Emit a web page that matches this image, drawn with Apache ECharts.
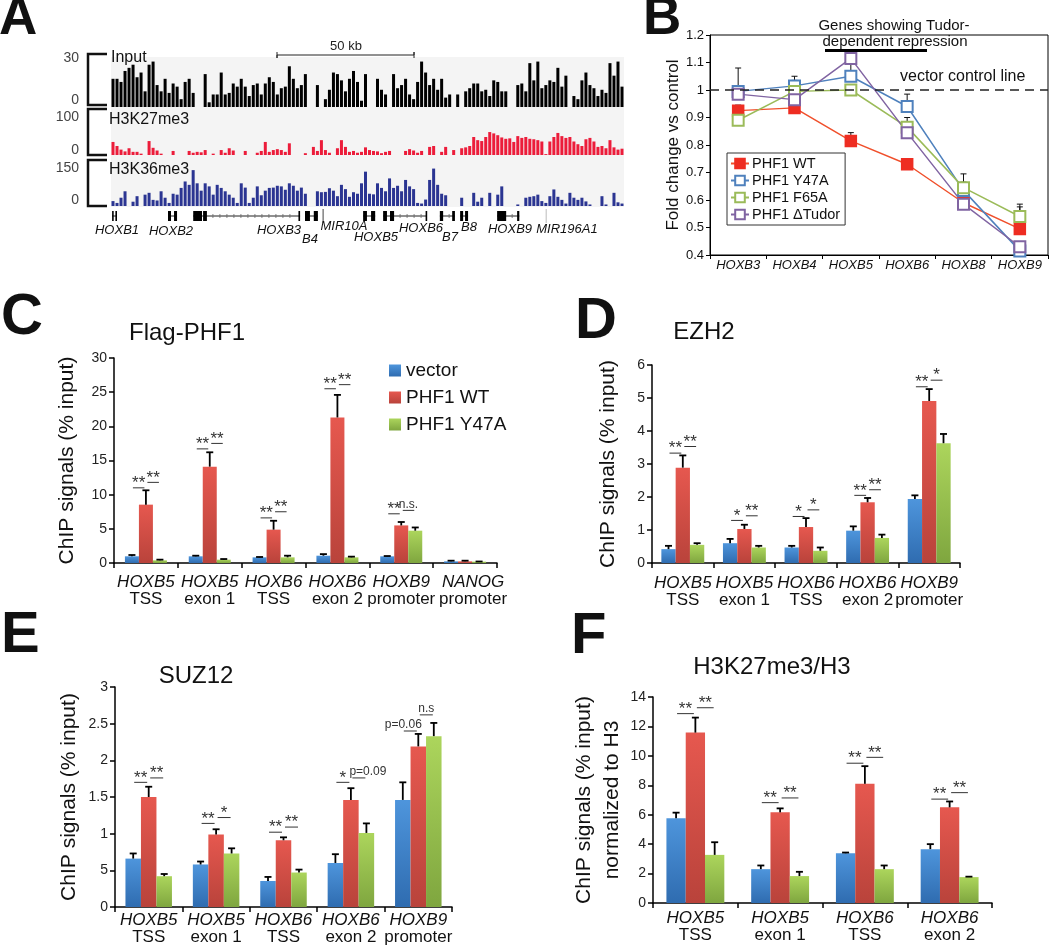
<!DOCTYPE html>
<html>
<head>
<meta charset="utf-8">
<script src="https://cdn.jsdelivr.net/npm/echarts@6.0.0/dist/echarts.min.js"></script>
<style>
  html, body { margin: 0; padding: 0; background: #fff; width: 1050px; height: 946px; overflow: hidden; }
  .layer { position: absolute; left: 0; top: 0; width: 1050px; height: 946px; }
</style>
</head>
<body>
<div id="chartAB" class="layer"></div>
<div id="chartCF" class="layer"></div>
<script>
var FONT = '"Liberation Sans", Arial, Helvetica, sans-serif';

// ---------- A: genome browser tracks (binned signal, 128 bins) ----------
var inputTrack = [18,18,16,23,25,27,19,22,10,27,29,14,10,18,9,15,13,5,16,18,9,0,0,21,3,8,8,22,8,9,
  15,13,18,13,7,14,15,8,15,19,16,8,12,13,26,18,12,14,21,0,0,14,0,5,11,22,21,17,10,18,23,16,4,21,0,
  0,18,11,8,0,21,12,14,18,8,5,16,29,22,14,18,11,18,6,8,0,8,0,10,12,15,15,10,11,7,17,16,10,10,0,0,
  14,15,10,28,17,29,12,14,17,16,25,13,20,0,7,5,17,22,14,12,7,11,9,28,20,29,13];
var k27Track = [29,20,12,8,15,7,7,3,0,31,16,10,3,0,0,9,0,0,0,9,5,7,6,11,0,3,0,11,5,15,
  10,0,0,9,0,0,5,9,29,7,11,13,11,7,26,0,0,0,4,0,18,9,33,11,5,0,15,33,18,7,9,5,7,17,11,
  9,8,4,7,9,0,0,0,9,13,10,5,9,0,18,20,0,7,18,0,11,0,15,17,20,40,33,31,40,51,48,44,39,36,37,29,
  42,38,40,36,35,33,30,2,30,40,49,42,38,40,30,24,20,35,38,30,18,20,15,33,17,12,14];
var k36Track = [16,10,27,48,0,14,32,0,37,43,20,18,48,27,10,40,37,59,80,69,117,74,50,74,64,37,69,59,48,37,
  27,10,74,60,10,27,64,35,50,59,60,66,64,53,74,66,50,60,40,0,0,48,45,46,58,50,32,69,55,30,45,40,74,112,40,
  38,74,59,48,90,59,66,48,85,64,55,10,8,21,85,122,69,40,35,0,0,0,27,0,0,43,14,27,0,43,0,37,64,0,0,0,
  5,0,27,30,32,37,16,10,32,54,30,20,8,43,27,20,27,15,5,0,0,32,5,0,43,12,8];
var trackMax = [30, 100, 150];
var binIdx = inputTrack.map(function (v, i) { return i; });

// gene models (kb from left edge of the window)
var geneNames = ['HOXB1','HOXB2','HOXB3','B4','MIR10A','HOXB5','HOXB6','B7','B8','HOXB9','MIR196A1'];
var geneStartKb = [0.4, 20.8, 30.0, 70.8, 77.4, 92.0, 99.3, 120.0, 127.4, 140.9, 158.8];
var geneEndKb   = [2.2, 24.1, 69.0, 75.5, 77.4, 96.4, 115.3, 125.5, 130.3, 149.0, 158.8];
var geneExonsKb = [
  [[0.4,0.9],[1.6,2.2]],
  [[20.8,21.9],[23.0,24.1]],
  [[30.0,33.2],[33.6,35.0],[68.4,69.0]],
  [[70.8,72.6],[74.0,75.5]],
  [],
  [[92.0,93.4],[94.9,96.4]],
  [[99.3,100.7],[101.8,103.3],[114.8,115.3]],
  [[120.0,121.2],[124.5,125.5]],
  [[127.4,128.5],[129.2,130.3]],
  [[140.9,144.2],[148.2,149.0]],
  []
];
var windowKb = 187.2;
var scaleBarKb = 50;

// ---------- B: fold change vs control ----------
var genesB = ['HOXB3','HOXB4','HOXB5','HOXB6','HOXB8','HOXB9'];
var wtB   = [0.925, 0.935, 0.815, 0.73, 0.59, 0.495];
var y47B  = [0.995, 1.015, 1.05, 0.94, 0.635, 0.415];
var f65B  = [0.89, 0.995, 1.0, 0.865, 0.645, 0.54];
var tudB  = [0.985, 0.965, 1.115, 0.845, 0.585, 0.43];
var wtErrB  = [0.02, 0.01, 0.03, 0, 0.02, 0.08];
var y47ErrB = [0.085, 0.035, 0.06, 0.045, 0.03, 0.02];
var f65ErrB = [0.025, 0.04, 0, 0.035, 0.05, 0.045];
var tudErrB = [0, 0.01, 0, 0, 0, 0.005];
var controlLevel = 1;

// ---------- C-F: ChIP qPCR ----------
var geneC = ['HOXB5','HOXB5','HOXB6','HOXB6','HOXB9','NANOG'];
var siteC = ['TSS','exon 1','TSS','exon 2','promoter','promoter'];
var vecC = [0.98, 0.98, 0.83, 1.07, 0.98, 0.24];
var wtC  = [8.54, 14.1, 4.88, 21.3, 5.5, 0.24];
var y47C = [0.39, 0.49, 0.83, 0.83, 4.73, 0.2];
var vecErrC = [0.19, 0.09, 0.05, 0.23, 0.04, 0.1];
var wtErrC  = [2.1, 2.1, 1.3, 3.3, 0.5, 0.1];
var y47ErrC = [0.1, 0.09, 0.24, 0.1, 0.47, 0.02];
var sigLeftC  = [11.0, 16.7, 6.6, 25.5, 7.2];
var sigRightC = [11.8, 17.5, 7.5, 26.1, 7.7];
var sigLeftTextC  = ['**','**','**','**','**'];
var sigRightTextC = ['**','**','**','**','n.s.'];

var geneD = ['HOXB5','HOXB5','HOXB6','HOXB6','HOXB9'];
var siteD = ['TSS','exon 1','TSS','exon 2','promoter'];
var vecD = [0.42, 0.6, 0.47, 0.98, 1.94];
var wtD  = [2.89, 1.03, 1.09, 1.84, 4.91];
var y47D = [0.55, 0.47, 0.37, 0.76, 3.63];
var vecErrD = [0.1, 0.13, 0.05, 0.13, 0.11];
var wtErrD  = [0.37, 0.13, 0.27, 0.13, 0.36];
var y47ErrD = [0.05, 0.05, 0.1, 0.1, 0.28];
var sigLeftD  = [3.33, 1.29, 1.41, 2.05, 5.34];
var sigRightD = [3.53, 1.43, 1.61, 2.22, 5.54];
var sigLeftTextD  = ['**','*','*','**','**'];
var sigRightTextD = ['**','**','*','**','*'];

var vecE = [0.66, 0.58, 0.355, 0.6, 1.46];
var wtE  = [1.5, 0.99, 0.91, 1.46, 2.19];
var y47E = [0.42, 0.73, 0.47, 1.01, 2.33];
var vecErrE = [0.07, 0.04, 0.055, 0.12, 0.24];
var wtErrE  = [0.14, 0.07, 0.04, 0.16, 0.17];
var y47ErrE = [0.03, 0.07, 0.04, 0.13, 0.18];
var sigLeftE  = [1.7, 1.14, 1.02, 1.7, 2.4];
var sigRightE = [1.76, 1.22, 1.09, 1.76, 2.62];
var sigLeftTextE  = ['**','**','**','*','p=0.06'];
var sigRightTextE = ['**','*','**','p=0.09','n.s'];

var geneF = ['HOXB5','HOXB5','HOXB6','HOXB6'];
var siteF = ['TSS','exon 1','TSS','exon 2'];
var vecF = [5.76, 2.3, 3.38, 3.66];
var wtF  = [11.58, 6.16, 8.1, 6.5];
var y47F = [3.27, 1.83, 2.3, 1.76];
var vecErrF = [0.38, 0.25, 0.05, 0.34];
var wtErrF  = [1.02, 0.27, 1.2, 0.4];
var y47ErrF = [0.86, 0.29, 0.25, 0.03];
var sigLeftF  = [12.87, 6.82, 9.5, 7.06];
var sigRightF = [13.27, 7.14, 9.9, 7.5];
var sigLeftTextF  = ['**','**','**','**'];
var sigRightTextF = ['**','**','**','**'];

// ---------- helpers ----------
function txt(text, x, y, size, o) {
  o = o || {};
  return {
    type: 'text', z: 20, x: x, y: y, rotation: o.rotation || 0,
    style: {
      text: text, fill: o.color || '#111',
      font: (o.italic ? 'italic ' : '') + (o.bold ? 'bold ' : '') + size + 'px ' + FONT,
      align: o.align || 'center', verticalAlign: o.va || 'middle'
    }
  };
}
function bracket(y1, y2) {
  return { type: 'polyline', z: 20, shape: { points: [[107, y1], [88, y1], [88, y2], [107, y2]] },
    style: { stroke: '#111', lineWidth: 2.5, fill: null } };
}
function catLabels(genes, sites) {
  return genes.map(function (g, i) { return g + '\n' + sites[i]; });
}

// ================= chart A + B =================
var chartAB = echarts.init(document.getElementById('chartAB'));

var trackGrids = [
  { left: 111, top: 60, width: 513, height: 47 },
  { left: 111, top: 110, width: 513, height: 45 },
  { left: 111, top: 160, width: 513, height: 46 }
];
var gridsAB = trackGrids.concat([
  { left: 111, top: 206, width: 513, height: 20 },
  { left: 710, top: 35, width: 338, height: 220, show: true, borderColor: '#000', borderWidth: 1 }
]).map(function (g) { return Object.assign({ outerBoundsMode: 'none', containLabel: false }, g); });

var xAB = [], yAB = [], seriesAB = [];
[inputTrack, k27Track, k36Track].forEach(function (d, k) {
  xAB.push({ gridIndex: k, type: 'category', data: binIdx, show: false });
  yAB.push({ gridIndex: k, type: 'value', min: 0, max: trackMax[k], show: false });
  seriesAB.push({
    type: 'bar', xAxisIndex: k, yAxisIndex: k, data: d, barCategoryGap: '25%',
    itemStyle: { color: ['#000000', '#ec1c3a', '#2b3592'][k] }, silent: true
  });
});

// gene row
xAB.push({ gridIndex: 3, type: 'value', min: 0, max: windowKb, show: false });
yAB.push({ gridIndex: 3, type: 'value', min: -1, max: 1, show: false });
seriesAB.push({
  type: 'custom', xAxisIndex: 3, yAxisIndex: 3, silent: true, clip: false,
  data: geneNames.map(function (n, i) { return [geneStartKb[i], geneEndKb[i], i]; }),
  renderItem: function (params, api) {
    var i = api.value(2);
    var p0 = api.coord([api.value(0), 0]);
    var p1 = api.coord([api.value(1), 0]);
    var y = p0[1];
    var kids = [];
    if (geneNames[i].indexOf('MIR') === 0) {
      kids.push({ type: 'line', shape: { x1: p0[0], y1: y - 7, x2: p0[0], y2: y + 7 },
        style: { stroke: geneNames[i] === 'MIR10A' ? '#444' : '#bbb', lineWidth: 1 } });
      return { type: 'group', children: kids };
    }
    kids.push({ type: 'line', shape: { x1: p0[0], y1: y, x2: p1[0], y2: y }, style: { stroke: '#222', lineWidth: 1 } });
    var ex = geneExonsKb[i];
    // intron direction ticks
    for (var e = 0; e < ex.length - 1; e++) {
      var a = api.coord([ex[e][1], 0])[0], b = api.coord([ex[e + 1][0], 0])[0];
      for (var t = a + 6; t < b - 3; t += 7) {
        kids.push({ type: 'line', shape: { x1: t, y1: y - 2, x2: t, y2: y + 2 }, style: { stroke: '#666', lineWidth: 0.8 } });
      }
    }
    ex.forEach(function (r) {
      var a = api.coord([r[0], 0])[0], b = api.coord([r[1], 0])[0];
      kids.push({ type: 'rect', shape: { x: a, y: y - 5, width: Math.max(b - a, 1.6), height: 10 }, style: { fill: '#000' } });
    });
    return { type: 'group', children: kids };
  }
});

// panel B
xAB.push({
  gridIndex: 4, type: 'category', data: genesB, boundaryGap: true,
  axisLine: { show: true, lineStyle: { color: '#000', width: 1 } },
  axisTick: { show: true, interval: 0, alignWithLabel: false, length: 4, lineStyle: { color: '#000' } },
  axisLabel: { interval: 0, margin: 4, color: '#111', fontSize: 13, fontStyle: 'italic', fontFamily: FONT },
  splitLine: { show: false }
});
yAB.push({
  gridIndex: 4, type: 'value', min: 0.4, max: 1.2, interval: 0.1,
  name: 'Fold change vs control', nameLocation: 'middle', nameGap: 27,
  nameTextStyle: { fontSize: 17, color: '#111', fontFamily: FONT },
  axisLine: { show: true, lineStyle: { color: '#000', width: 1 } },
  axisTick: { show: true, length: 4, lineStyle: { color: '#000' } },
  axisLabel: { margin: 6, color: '#111', fontSize: 13, fontFamily: FONT,
    formatter: function (v) { return String(Math.round(v * 10) / 10); } },
  splitLine: { show: false }
});

var lineDefs = [
  { name: 'PHF1 WT', data: wtB, color: '#ee2d22', line: '#f0502c', symbol: 'rect' },
  { name: 'PHF1 Y47A', data: y47B, color: '#4f81bd', line: '#4f81bd', symbol: 'emptyRect' },
  { name: 'PHF1 F65A', data: f65B, color: '#9bbb59', line: '#9bbb59', symbol: 'emptyRect' },
  { name: 'PHF1 \u0394Tudor', data: tudB, color: '#8064a2', line: '#8064a2', symbol: 'emptyRect' }
];
lineDefs.forEach(function (d, k) {
  var s = {
    name: d.name, type: 'line', xAxisIndex: 4, yAxisIndex: 4, data: d.data,
    symbol: d.symbol, symbolSize: 11, z: 3,
    itemStyle: { color: d.color, borderColor: d.color, borderWidth: 1.5 },
    lineStyle: { color: d.line, width: 1.5 }
  };
  if (k === 0) {
    s.markLine = {
      silent: true, symbol: 'none', label: { show: false },
      lineStyle: { color: '#222', type: [9, 6], width: 1.5 },
      data: [{ yAxis: controlLevel }]
    };
  }
  seriesAB.push(s);
});

var errDataB = [];
[[wtB, wtErrB], [y47B, y47ErrB], [f65B, f65ErrB], [tudB, tudErrB]].forEach(function (p) {
  p[0].forEach(function (v, i) { if (p[1][i] > 0) errDataB.push([i, v, v + p[1][i]]); });
});
seriesAB.push({
  type: 'custom', xAxisIndex: 4, yAxisIndex: 4, z: 1, silent: true, data: errDataB,
  renderItem: function (params, api) {
    var a = api.coord([api.value(0), api.value(1)]);
    var b = api.coord([api.value(0), api.value(2)]);
    return { type: 'group', children: [
      { type: 'line', shape: { x1: a[0], y1: a[1], x2: a[0], y2: b[1] }, style: { stroke: '#111', lineWidth: 1 } },
      { type: 'line', shape: { x1: a[0] - 3, y1: b[1], x2: a[0] + 3, y2: b[1] }, style: { stroke: '#111', lineWidth: 1 } }
    ] };
  }
});

var graphicAB = [
  { type: 'rect', z: 0, shape: { x: 111, y: 57, width: 513, height: 150 }, style: { fill: '#f4f4f4' } },
  bracket(54, 105), bracket(109, 155), bracket(160, 206),
  txt('30', 79, 58, 14, { align: 'right', color: '#444' }),
  txt('0', 79, 100, 14, { align: 'right', color: '#444' }),
  txt('100', 79, 117, 14, { align: 'right', color: '#444' }),
  txt('0', 79, 150, 14, { align: 'right', color: '#444' }),
  txt('150', 79, 168, 14, { align: 'right', color: '#444' }),
  txt('0', 79, 200, 14, { align: 'right', color: '#444' }),
  txt('Input', 111, 58, 16, { align: 'left' }),
  txt('H3K27me3', 109, 120, 16, { align: 'left' }),
  txt('H3K36me3', 109, 170, 16, { align: 'left' }),
  // scale bar
  { type: 'polyline', z: 20, shape: { points: [[277, 52], [277, 58], [277, 55], [277 + 513 * scaleBarKb / windowKb, 55], [277 + 513 * scaleBarKb / windowKb, 52], [277 + 513 * scaleBarKb / windowKb, 58]] },
    style: { stroke: '#222', lineWidth: 1, fill: null } },
  txt('50 kb', 346, 46, 13, { color: '#222' }),
  // gene names
  txt('HOXB1', 117, 230, 13, { italic: true }),
  txt('HOXB2', 171, 231, 13, { italic: true }),
  txt('HOXB3', 279, 230, 13, { italic: true }),
  txt('B4', 310, 239, 13, { italic: true }),
  txt('MIR10A', 344, 226, 13, { italic: true }),
  txt('HOXB5', 376, 237, 13, { italic: true }),
  txt('HOXB6', 421, 228, 13, { italic: true }),
  txt('B7', 450, 237, 13, { italic: true }),
  txt('B8', 469, 227, 13, { italic: true }),
  txt('HOXB9', 510, 229, 13, { italic: true }),
  txt('MIR196A1', 567, 229, 13, { italic: true }),
  // panel B notes
  txt('Genes showing Tudor-', 894, 26, 15),
  txt('dependent repression', 895, 42, 15),
  { type: 'rect', z: 20, shape: { x: 825, y: 49, width: 102, height: 3 }, style: { fill: '#000' } },
  txt('vector control line', 900, 77, 16, { align: 'left' }),
  // panel letters
  txt('A', -1, 19, 53, { bold: true, align: 'left', color: '#111' }),
  txt('B', 643, 19, 53, { bold: true, align: 'left', color: '#111' })
];

chartAB.setOption({
  backgroundColor: 'transparent',
  animation: false,
  textStyle: { fontFamily: FONT },
  grid: gridsAB,
  xAxis: xAB,
  yAxis: yAB,
  legend: {
    data: lineDefs.map(function (d) { return d.name; }),
    orient: 'vertical', left: 727, top: 153, selectedMode: false,
    padding: [3, 5, 3, 3], itemGap: 2, itemWidth: 18, itemHeight: 12,
    borderColor: '#333', borderWidth: 1, backgroundColor: '#fff',
    textStyle: { fontSize: 14.5, color: '#111', fontFamily: FONT, padding: [0, 0, 0, -2] }
  },
  graphic: graphicAB,
  series: seriesAB
});

// ================= chart C-F =================
var chartCF = echarts.init(document.getElementById('chartCF'));

var BLUE = ['#4e95dc', '#2f6cb0'];
var RED = ['#e6584f', '#b9433b'];
var GREEN = ['#acd55c', '#7fa63f'];

var panels = [
  { grid: { left: 114, top: 358, width: 383, height: 205 }, cats: catLabels(geneC, siteC), max: 30, step: 5, bw: 14, margin: 11,
    shiftLast: true,
    vec: vecC, wt: wtC, y47: y47C, vecErr: vecErrC, wtErr: wtErrC, y47Err: y47ErrC,
    sigL: sigLeftC, sigR: sigRightC, sigLT: sigLeftTextC, sigRT: sigRightTextC,
    name: 'ChIP signals (% input)', nameGap: 33 },
  { grid: { left: 652, top: 365, width: 308, height: 198 }, cats: catLabels(geneD, siteD), max: 6, step: 1, bw: 14.3, margin: 12,
    vec: vecD, wt: wtD, y47: y47D, vecErr: vecErrD, wtErr: wtErrD, y47Err: y47ErrD,
    sigL: sigLeftD, sigR: sigRightD, sigLT: sigLeftTextD, sigRT: sigRightTextD,
    name: 'ChIP signals (% input)', nameGap: 30 },
  { grid: { left: 115, top: 687, width: 337, height: 220 }, cats: catLabels(geneD, siteD), max: 3, step: 0.5, bw: 15.5, margin: 5,
    vec: vecE, wt: wtE, y47: y47E, vecErr: vecErrE, wtErr: wtErrE, y47Err: y47ErrE,
    sigL: sigLeftE, sigR: sigRightE, sigLT: sigLeftTextE, sigRT: sigRightTextE,
    name: 'ChIP signals (% input)', nameGap: 32,
    fmt: function (v) { return v === 0.5 ? '5' : String(v); } },
  { grid: { left: 653, top: 697, width: 339, height: 206 }, cats: catLabels(geneF, siteF), max: 14, step: 2, bw: 19.3, margin: 7,
    vec: vecF, wt: wtF, y47: y47F, vecErr: vecErrF, wtErr: wtErrF, y47Err: y47ErrF,
    sigL: sigLeftF, sigR: sigRightF, sigLT: sigLeftTextF, sigRT: sigRightTextF,
    name: 'ChIP signals (% input)\nnormalized to H3', nameGap: 18 }
];

function grad(c) {
  return new echarts.graphic.LinearGradient(0, 0, 0, 1, [{ offset: 0, color: c[0] }, { offset: 1, color: c[1] }]);
}

var gridsCF = [], xCF = [], yCF = [], seriesCF = [];
panels.forEach(function (p, k) {
  gridsCF.push(Object.assign({ outerBoundsMode: 'none', containLabel: false }, p.grid));
  xCF.push({
    gridIndex: k, type: 'category', data: p.cats, boundaryGap: true,
    axisLine: { show: true, lineStyle: { color: '#000', width: 1.5 } },
    axisTick: { show: true, interval: 0, alignWithLabel: false, length: 5, lineStyle: { color: '#000', width: 1.5 } },
    axisLabel: {
      interval: 0, margin: p.margin, color: '#111', lineHeight: 17,
      formatter: function (v, idx) {
        var s = v.split('\n');
        var last = p.shiftLast && idx === p.cats.length - 1;
        return '{' + (last ? 'gR' : 'g') + '|' + s[0] + '}\n{' + (last ? 'sR' : 's') + '|' + s[1] + '}';
      },
      rich: {
        g: { fontSize: 17, fontStyle: 'italic', fontFamily: FONT, color: '#111', lineHeight: 17 },
        s: { fontSize: 17, fontFamily: FONT, color: '#111', lineHeight: 17 },
        gR: { fontSize: 17, fontStyle: 'italic', fontFamily: FONT, color: '#111', lineHeight: 17, padding: [0, 0, 0, 16] },
        sR: { fontSize: 17, fontFamily: FONT, color: '#111', lineHeight: 17, padding: [0, 0, 0, 16] }
      }
    },
    splitLine: { show: false }
  });
  yCF.push({
    gridIndex: k, type: 'value', min: 0, max: p.max, interval: p.step,
    name: p.name, nameLocation: 'middle', nameGap: p.nameGap,
    nameTextStyle: { fontSize: 21, color: '#111', fontFamily: FONT, lineHeight: 28 },
    axisLine: { show: true, lineStyle: { color: '#000', width: 1.5 } },
    axisTick: { show: true, length: 5, lineStyle: { color: '#000', width: 1.5 } },
    axisLabel: { margin: 7, color: '#222', fontSize: 14, fontFamily: FONT, formatter: p.fmt },
    splitLine: { show: false }
  });
  [['vector', p.vec, BLUE], ['PHF1 WT', p.wt, RED], ['PHF1 Y47A', p.y47, GREEN]].forEach(function (b) {
    seriesCF.push({
      name: b[0], type: 'bar', xAxisIndex: k, yAxisIndex: k, data: b[1],
      barWidth: p.bw, barGap: '0%', itemStyle: { color: grad(b[2]) }
    });
  });
  var errData = [];
  [[p.vec, p.vecErr], [p.wt, p.wtErr], [p.y47, p.y47Err]].forEach(function (pair, g) {
    pair[0].forEach(function (v, i) { errData.push([i, g, v, v + pair[1][i]]); });
  });
  seriesCF.push({
    type: 'custom', xAxisIndex: k, yAxisIndex: k, z: 3, silent: true, data: errData,
    renderItem: function (params, api) {
      var base = api.coord([api.value(0), api.value(2)]);
      var top = api.coord([api.value(0), api.value(3)]);
      var x = base[0] + (api.value(1) - 1) * p.bw;
      return { type: 'group', children: [
        { type: 'line', shape: { x1: x, y1: base[1], x2: x, y2: top[1] }, style: { stroke: '#000', lineWidth: 1.8 } },
        { type: 'line', shape: { x1: x - 3.5, y1: top[1], x2: x + 3.5, y2: top[1] }, style: { stroke: '#000', lineWidth: 1.8 } }
      ] };
    }
  });
  seriesCF.push({
    type: 'custom', xAxisIndex: k, yAxisIndex: k, z: 3, silent: true, clip: false,
    data: p.sigL.map(function (v, i) { return [i, v, p.sigR[i]]; }),
    renderItem: function (params, api) {
      var i = params.dataIndex;
      var pl = api.coord([api.value(0), api.value(1)]);
      var pr = api.coord([api.value(0), api.value(2)]);
      var cx = pl[0];
      var segs = [
        { x1: cx - p.bw + 1, x2: cx - 1.5, y: pl[1], t: p.sigLT[i], side: 'L' },
        { x1: cx + 1.5, x2: cx + p.bw - 1, y: pr[1], t: p.sigRT[i], side: 'R' }
      ];
      var kids = [];
      segs.forEach(function (s) {
        kids.push({ type: 'line', shape: { x1: s.x1, y1: s.y, x2: s.x2, y2: s.y }, style: { stroke: '#333', lineWidth: 1 } });
        var star = s.t.charAt(0) === '*';
        var tx = (s.x1 + s.x2) / 2, al = 'center';
        if (s.t.indexOf('p=') === 0) {
          if (s.side === 'L') { tx = s.x2 + 5; al = 'right'; } else { tx = s.x1 - 3; al = 'left'; }
        }
        kids.push({ type: 'text', x: tx, y: s.y + (star ? 4 : 0),
          style: { text: s.t, fill: '#333', align: al, verticalAlign: 'bottom',
            font: (star ? 17 : 12) + 'px ' + FONT } });
      });
      return { type: 'group', children: kids };
    }
  });
});

chartCF.setOption({
  backgroundColor: 'transparent',
  animation: false,
  textStyle: { fontFamily: FONT },
  grid: gridsCF,
  xAxis: xCF,
  yAxis: yCF,
  legend: {
    data: ['vector', 'PHF1 WT', 'PHF1 Y47A'],
    orient: 'vertical', left: 389, top: 361, selectedMode: false, padding: 0,
    icon: 'rect', itemWidth: 12, itemHeight: 12, itemGap: 8,
    textStyle: { fontSize: 19, color: '#111', fontFamily: FONT }
  },
  graphic: [
    txt('C', 1, 318, 58, { bold: true, align: 'left', color: '#111' }),
    txt('D', 575, 322, 58, { bold: true, align: 'left', color: '#111' }),
    txt('E', 1, 636, 58, { bold: true, align: 'left', color: '#111' }),
    txt('F', 571, 637, 58, { bold: true, align: 'left', color: '#111' }),
    txt('Flag-PHF1', 187, 333, 24),
    txt('EZH2', 704, 332, 24),
    txt('SUZ12', 196, 676, 24),
    txt('H3K27me3/H3', 772, 667, 24)
  ],
  series: seriesCF
});

window.addEventListener('resize', function () {
  chartAB.resize();
  chartCF.resize();
});
</script>
</body>
</html>
